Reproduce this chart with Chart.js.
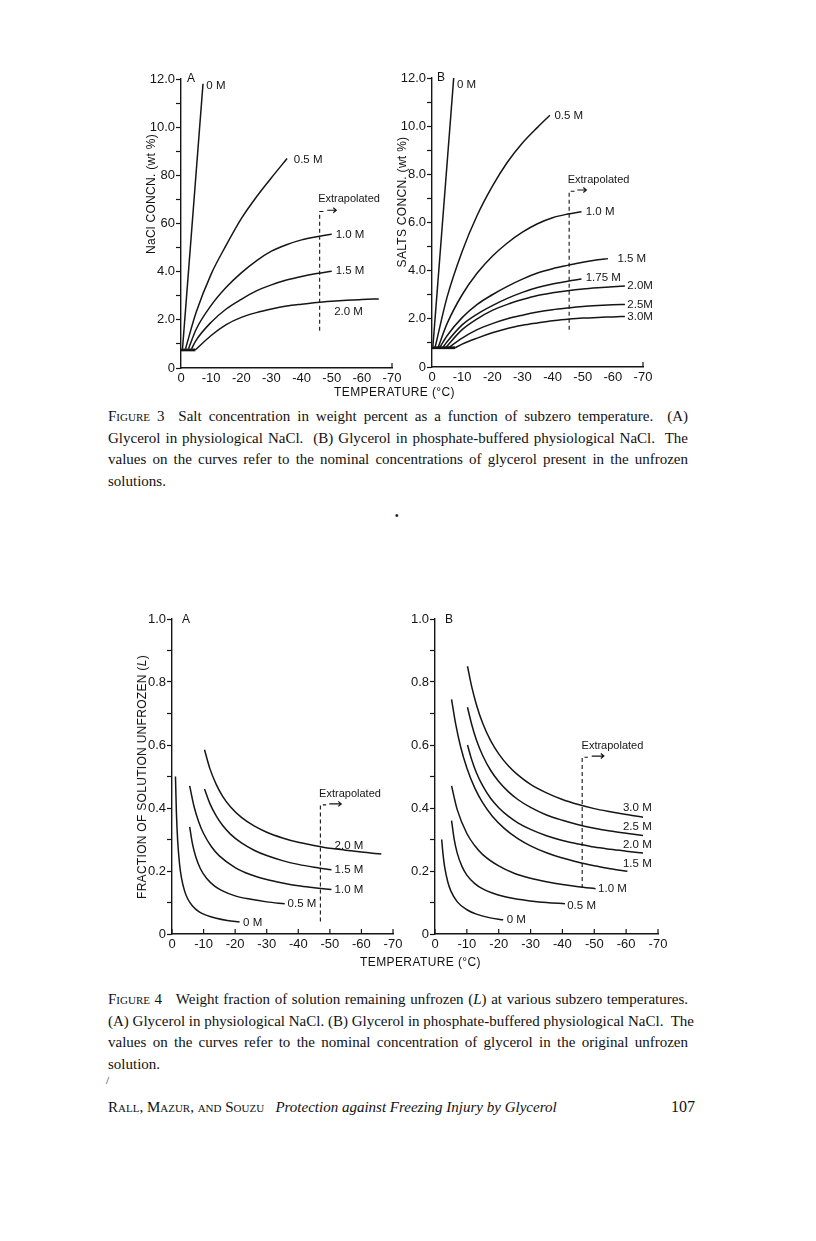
<!DOCTYPE html>
<html>
<head>
<meta charset="utf-8">
<script src="https://cdn.jsdelivr.net/npm/chart.js@4.4.1/dist/chart.umd.min.js"></script>
<style>
  html, body { margin: 0; padding: 0; background: #fff; }
  body { width: 816px; height: 1241px; position: relative; overflow: hidden; color: #111; }
  canvas { position: absolute; }
  .t { position: absolute; font-family: "Liberation Sans", Arial, sans-serif; white-space: nowrap; }
  .rot { transform: translate(-50%, -50%) rotate(-90deg); font-size: 12px; letter-spacing: 0.3px; }
  .cap { position: absolute; left: 108px; width: 580px; font-family: "Liberation Serif", "Times New Roman", serif; font-size: 15px; }
  .cap div { height: 21.7px; line-height: 21.7px; text-align: justify; text-align-last: justify; white-space: nowrap; }
  .cap div.last { text-align-last: left; }
  .sc { font-variant: small-caps; }
</style>
</head>
<body>
<canvas id="c3a" style="left:131px; top:65px;" width="301" height="331"></canvas>
<canvas id="c3b" style="left:382px; top:64px;" width="301" height="331"></canvas>
<canvas id="c4a" style="left:122px; top:605px;" width="311" height="357"></canvas>
<canvas id="c4b" style="left:385px; top:605px;" width="313" height="357"></canvas>

<div class="t rot" style="left:151px; top:194px;">NaCl CONCN. (wt %)</div>
<div class="t rot" style="left:402px; top:202px;">SALTS CONCN. (wt %)</div>
<div class="t rot" style="left:142px; top:777px;">FRACTION OF SOLUTION UNFROZEN (<i>L</i>)</div>
<div class="t" style="left:187px; top:71px; font-size:12px;">A</div>
<div class="t" style="left:437px; top:70px; font-size:12px;">B</div>
<div class="t" style="left:182px; top:612px; font-size:12px;">A</div>
<div class="t" style="left:445px; top:612px; font-size:12px;">B</div>
<div class="t" style="left:334px; top:385px; font-size:12px; letter-spacing:0.4px;">TEMPERATURE (°C)</div>
<div class="t" style="left:360px; top:955px; font-size:12px; letter-spacing:0.4px;">TEMPERATURE (°C)</div>

<div class="cap" style="top:406px;">
  <div><span class="sc">Figure</span> 3&nbsp; Salt concentration in weight percent as a function of subzero temperature.&nbsp; (A)</div>
  <div>Glycerol in physiological NaCl.&nbsp; (B) Glycerol in phosphate-buffered physiological NaCl.&nbsp; The</div>
  <div>values on the curves refer to the nominal concentrations of glycerol present in the unfrozen</div>
  <div class="last">solutions.</div>
</div>
<div class="t" style="left:395px; top:510px; font-size:10px;">•</div>

<div class="cap" style="top:989px;">
  <div><span class="sc">Figure</span> 4&nbsp;&nbsp; Weight fraction of solution remaining unfrozen (<i>L</i>) at various subzero temperatures.</div>
  <div>(A) Glycerol in physiological NaCl. (B) Glycerol in phosphate-buffered physiological NaCl.&nbsp; The</div>
  <div>values on the curves refer to the nominal concentration of glycerol in the original unfrozen</div>
  <div class="last">solution.</div>
</div>
<div class="t" style="left:106px; top:1074px; font-size:11px; font-family:'Liberation Serif',serif;">/</div>

<div class="t" style="left:108px; top:1099px; font-size:15px; font-family:'Liberation Serif',serif;"><span class="sc">Rall, Mazur, and Souzu</span>&nbsp;&nbsp; <i>Protection against Freezing Injury by Glycerol</i></div>
<div class="t" style="left:671px; top:1098px; font-size:16px; font-family:'Liberation Serif',serif;">107</div>

<script>
// temperature ticks (°C)
const xTickValues = [0, -10, -20, -30, -40, -50, -60, -70];
const xTickLabels = ['0', '-10', '-20', '-30', '-40', '-50', '-60', '-70'];

// Figure 3 y ticks (wt %)
const yTickValues3 = [0, 2, 4, 6, 8, 10, 12];
const yTickLabels3A = ['0', '2.0', '4.0', '60', '80', '10.0', '12.0'];
const yTickLabels3B = ['0', '2.0', '4.0', '6.0', '8.0', '10.0', '12.0'];

// Figure 4 y ticks (fraction unfrozen)
const yTickValues4 = [0, 0.2, 0.4, 0.6, 0.8, 1.0];
const yTickLabels4 = ['0', '0.2', '0.4', '0.6', '0.8', '1.0'];

// Fig 3A: NaCl concentration, [temperature, wt %]
const nacl_base = [[0, 0.75], [-4.75, 0.75]];
const nacl_0M = [[-0.5, 0.8], [-7.3, 11.8]];
const nacl_05M = [[-1.5, 0.8], [-5, 2.3], [-10, 3.9], [-15, 5.1], [-20, 6.2], [-25, 7.1], [-30, 7.9], [-35.2, 8.7]];
const nacl_10M = [[-2.5, 0.8], [-5, 1.6], [-10, 2.6], [-15, 3.35], [-20, 3.95], [-25, 4.45], [-30, 4.85], [-35, 5.12], [-40, 5.32], [-45, 5.45], [-50, 5.55]];
const nacl_15M = [[-3.5, 0.8], [-5, 1.15], [-10, 1.9], [-15, 2.45], [-20, 2.85], [-25, 3.2], [-30, 3.45], [-35, 3.65], [-40, 3.8], [-45, 3.92], [-50, 4.02]];
const nacl_20M = [[-4.75, 0.75], [-10, 1.35], [-15, 1.8], [-20, 2.1], [-25, 2.3], [-30, 2.45], [-35, 2.57], [-40, 2.65], [-45, 2.72], [-50, 2.77], [-55, 2.81], [-60, 2.84], [-65.6, 2.87]];
const nacl_extrap = [[-46, 1.55], [-46, 6.5], [-47.6, 6.5]];

// Fig 3B: salts concentration, [temperature, wt %]
const salts_base = [[0, 0.8], [-7.7, 0.8]];
const salts_0M = [[-0.3, 0.85], [-7.2, 12.0]];
const salts_05M = [[-1, 0.8], [-5, 2.9], [-10, 4.8], [-15, 6.3], [-20, 7.5], [-25, 8.5], [-30, 9.3], [-35, 9.95], [-39.1, 10.45]];
const salts_10M = [[-2, 0.8], [-5, 1.8], [-10, 3.0], [-15, 3.9], [-20, 4.6], [-25, 5.15], [-30, 5.6], [-35, 5.95], [-40, 6.2], [-45, 6.35], [-49.6, 6.45]];
const salts_15M = [[-2.5, 0.8], [-5, 1.3], [-10, 2.05], [-15, 2.6], [-20, 3.0], [-25, 3.35], [-30, 3.65], [-35, 3.9], [-40, 4.08], [-45, 4.22], [-50, 4.35], [-55, 4.45], [-58.4, 4.5]];
const salts_175M = [[-3.5, 0.8], [-5, 1.05], [-10, 1.75], [-15, 2.2], [-20, 2.55], [-25, 2.85], [-30, 3.1], [-35, 3.3], [-40, 3.45], [-45, 3.56], [-49.6, 3.65]];
const salts_20M = [[-4.5, 0.8], [-10, 1.55], [-15, 2.0], [-20, 2.35], [-25, 2.6], [-30, 2.8], [-35, 2.97], [-40, 3.08], [-45, 3.17], [-50, 3.24], [-55, 3.29], [-60, 3.33], [-64, 3.36]];
const salts_25M = [[-5.5, 0.8], [-10, 1.2], [-15, 1.55], [-20, 1.8], [-25, 2.0], [-30, 2.15], [-35, 2.28], [-40, 2.38], [-45, 2.45], [-50, 2.51], [-55, 2.55], [-60, 2.58], [-64, 2.6]];
const salts_30M = [[-7.7, 0.8], [-10, 0.95], [-15, 1.2], [-20, 1.42], [-25, 1.6], [-30, 1.73], [-35, 1.83], [-40, 1.92], [-45, 1.98], [-50, 2.03], [-55, 2.06], [-60, 2.08], [-64, 2.1]];
const salts_extrap = [[-45.5, 1.55], [-45.5, 7.3], [-47.3, 7.3]];

// Fig 4A: fraction unfrozen, physiological NaCl
const fracA_0M = [[-1.1, 0.5], [-1.4, 0.384], [-1.8, 0.295], [-2.4, 0.221], [-3, 0.178], [-4, 0.136], [-5, 0.111], [-6.5, 0.089], [-8.5, 0.071], [-11, 0.059], [-14, 0.05], [-17.5, 0.043], [-21.4, 0.038]];
const fracA_05M = [[-5.6, 0.34], [-6.5, 0.285], [-7.5, 0.246], [-9, 0.207], [-11, 0.176], [-13.5, 0.152], [-16, 0.137], [-20, 0.121], [-25, 0.11], [-30, 0.102], [-35.7, 0.096]];
const fracA_10M = [[-5.6, 0.47], [-7, 0.404], [-8.5, 0.355], [-10, 0.319], [-12.5, 0.277], [-15, 0.248], [-20, 0.211], [-25, 0.188], [-30, 0.173], [-35, 0.162], [-40, 0.153], [-45, 0.147], [-50.5, 0.141]];
const fracA_15M = [[-10.3, 0.46], [-12, 0.414], [-14, 0.375], [-16, 0.345], [-18.5, 0.317], [-22, 0.289], [-26, 0.266], [-30, 0.249], [-35, 0.233], [-40, 0.221], [-45, 0.212], [-50.5, 0.204]];
const fracA_20M = [[-10.3, 0.585], [-12, 0.525], [-14, 0.475], [-16, 0.438], [-18.5, 0.404], [-22, 0.37], [-26, 0.343], [-30, 0.323], [-35, 0.305], [-40, 0.291], [-45, 0.281], [-50, 0.272], [-55, 0.266], [-60, 0.26], [-66.3, 0.254]];
const fracA_extrap = [[-47, 0.04], [-47, 0.41], [-48.8, 0.41]];

// Fig 4B: fraction unfrozen, phosphate-buffered NaCl
const fracB_0M = [[-2.1, 0.3], [-2.5, 0.255], [-3, 0.215], [-4, 0.166], [-5, 0.136], [-7, 0.102], [-10, 0.077], [-13, 0.063], [-17, 0.052], [-21.4, 0.045]];
const fracB_05M = [[-5.2, 0.36], [-6, 0.302], [-7, 0.256], [-8.5, 0.214], [-10, 0.187], [-12.5, 0.16], [-15, 0.143], [-18, 0.13], [-22, 0.118], [-26, 0.11], [-30, 0.105], [-35, 0.1], [-40.8, 0.096]];
const fracB_10M = [[-5.2, 0.47], [-7, 0.394], [-10, 0.319], [-12.5, 0.28], [-15, 0.252], [-20, 0.216], [-25, 0.192], [-30, 0.177], [-35, 0.166], [-40, 0.157], [-45, 0.15], [-50.4, 0.144]];
const fracB_15M = [[-5.2, 0.745], [-6.5, 0.666], [-8, 0.596], [-10, 0.527], [-12.5, 0.463], [-15, 0.416], [-18, 0.374], [-22, 0.333], [-26, 0.303], [-30, 0.28], [-35, 0.258], [-40, 0.241], [-45, 0.228], [-50, 0.217], [-55, 0.207], [-60.4, 0.199]];
const fracB_20M = [[-10.2, 0.6], [-11.5, 0.554], [-13, 0.512], [-15, 0.47], [-17.5, 0.43], [-20, 0.401], [-23, 0.374], [-26, 0.353], [-30, 0.332], [-35, 0.312], [-40, 0.297], [-45, 0.286], [-50, 0.276], [-55, 0.269], [-60, 0.263], [-65.3, 0.257]];
const fracB_25M = [[-10.2, 0.72], [-11.5, 0.666], [-13, 0.616], [-15, 0.566], [-17.5, 0.519], [-20, 0.484], [-23, 0.452], [-26, 0.427], [-30, 0.402], [-35, 0.378], [-40, 0.361], [-45, 0.347], [-50, 0.336], [-55, 0.327], [-60, 0.32], [-65.3, 0.313]];
const fracB_30M = [[-10.2, 0.85], [-11.5, 0.786], [-13, 0.728], [-15, 0.668], [-17.5, 0.613], [-20, 0.572], [-23, 0.534], [-26, 0.505], [-30, 0.475], [-35, 0.448], [-40, 0.427], [-45, 0.411], [-50, 0.398], [-55, 0.388], [-60, 0.379], [-65.3, 0.371]];
const fracB_extrap = [[-46.2, 0.146], [-46.2, 0.561], [-48, 0.561]];

// curve labels: [text, temperature, value]
const labels3A = [['0 M', -8.4, 11.7], ['0.5 M', -37.4, 8.65], ['1.0 M', -51.3, 5.55], ['1.5 M', -51.3, 4.05], ['2.0 M', -50.8, 2.33]];
const labels3B = [['0 M', -8.3, 11.7], ['0.5 M', -40.6, 10.45], ['1.0 M', -51.0, 6.45], ['1.5 M', -61.5, 4.5], ['1.75 M', -51.0, 3.7], ['2.0M', -64.8, 3.36], ['2.5M', -64.8, 2.6], ['3.0M', -64.8, 2.1]];
const labels4A = [['0 M', -22.5, 0.036], ['0.5 M', -36.6, 0.095], ['1.0 M', -51.5, 0.141], ['1.5 M', -51.5, 0.204], ['2.0 M', -51.5, 0.281]];
const labels4B = [['0 M', -22.5, 0.045], ['0.5 M', -41.5, 0.09], ['1.0 M', -51.2, 0.143], ['1.5 M', -59, 0.223], ['2.0 M', -59, 0.283], ['2.5 M', -59, 0.341], ['3.0 M', -59, 0.4]];

const ink = '#151515';

function pick(values, labels, v) {
    const i = values.findIndex(function (x) { return Math.abs(x - v) < 1e-6; });
    return i >= 0 ? labels[i] : '';
}

function curve(points, extra) {
    return Object.assign({
        data: points.map(function (p) { return { x: p[0], y: p[1] }; }),
        borderColor: ink,
        borderWidth: 1.5,
        pointRadius: 0,
        fill: false,
        cubicInterpolationMode: 'monotone'
    }, extra || {});
}

const annotate = {
    id: 'annotate',
    afterDatasetsDraw(chart, args, opts) {
        const ctx = chart.ctx;
        const x = chart.scales.x, y = chart.scales.y;
        ctx.save();
        ctx.fillStyle = ink;
        ctx.strokeStyle = ink;
        ctx.lineWidth = 1.2;
        ctx.textBaseline = 'middle';
        ctx.font = '11.5px "Liberation Sans", Arial, sans-serif';
        (opts.labels || []).forEach(function (l) {
            ctx.fillText(l[0], x.getPixelForValue(l[1]), y.getPixelForValue(l[2]));
        });
        if (opts.extrap) {
            const e = opts.extrap;
            ctx.font = '11px "Liberation Sans", Arial, sans-serif';
            ctx.fillText('Extrapolated', x.getPixelForValue(e[0]), y.getPixelForValue(e[1]));
            const x1 = x.getPixelForValue(e[2]), x2 = x.getPixelForValue(e[3]), py = y.getPixelForValue(e[4]);
            ctx.beginPath();
            ctx.moveTo(x1, py); ctx.lineTo(x2, py);
            ctx.moveTo(x2 - 3, py - 2.5); ctx.lineTo(x2, py); ctx.lineTo(x2 - 3, py + 2.5);
            ctx.stroke();
        }
        // inward tick marks on the temperature axis
        (opts.xMarks || []).forEach(function (t) {
            const px = x.getPixelForValue(t);
            ctx.beginPath();
            ctx.moveTo(px, y.bottom);
            ctx.lineTo(px, y.bottom - 5);
            ctx.stroke();
        });
        ctx.restore();
    }
};

function makeChart(id, datasets, yMax, yStep, yValues, yLabels, notes) {
    return new Chart(document.getElementById(id).getContext('2d'), {
        type: 'line',
        data: { datasets: datasets },
        plugins: [annotate],
        options: {
            responsive: false,
            animation: false,
            events: [],
            layout: { padding: { top: 14, right: 40, left: 0, bottom: 0 } },
            plugins: { legend: { display: false }, tooltip: { enabled: false }, annotate: notes },
            scales: {
                x: {
                    type: 'linear', min: -70, max: 0, reverse: true,
                    afterFit: function (s) { s.height = 28; },
                    border: { display: true, color: ink, width: 1.4 },
                    grid: { display: false, drawTicks: false },
                    ticks: {
                        stepSize: 10, autoSkip: false, maxRotation: 0, padding: 3, color: ink,
                        font: { family: '"Liberation Sans", Arial, sans-serif', size: 13 },
                        callback: function (v) { return pick(xTickValues, xTickLabels, v); }
                    }
                },
                y: {
                    type: 'linear', min: 0, max: yMax,
                    afterFit: function (s) { s.width = 50; },
                    border: { display: true, color: ink, width: 1.4 },
                    grid: { drawOnChartArea: false, drawTicks: true, tickLength: 5, tickColor: ink, tickWidth: 1.2 },
                    ticks: {
                        stepSize: yStep, autoSkip: false, padding: 1, color: ink,
                        font: { family: '"Liberation Sans", Arial, sans-serif', size: 13 },
                        callback: function (v) { return pick(yValues, yLabels, v); }
                    }
                }
            }
        }
    });
}

const dashed = { borderDash: [4, 3], borderWidth: 1.1, cubicInterpolationMode: 'default', tension: 0 };
const straight = { cubicInterpolationMode: 'default', tension: 0 };

makeChart('c3a', [
    curve(nacl_base, { borderWidth: 2.8, cubicInterpolationMode: 'default' }),
    curve(nacl_0M, straight),
    curve(nacl_05M), curve(nacl_10M), curve(nacl_15M), curve(nacl_20M),
    curve(nacl_extrap, dashed)
], 12, 1, yTickValues3, yTickLabels3A,
    { labels: labels3A, extrap: [-45.5, 7.0, -48.5, -51.5, 6.55], xMarks: [-70] });

makeChart('c3b', [
    curve(salts_base, { borderWidth: 2.8, cubicInterpolationMode: 'default' }),
    curve(salts_0M, straight),
    curve(salts_05M), curve(salts_10M), curve(salts_15M), curve(salts_175M),
    curve(salts_20M), curve(salts_25M), curve(salts_30M),
    curve(salts_extrap, dashed)
], 12, 1, yTickValues3, yTickLabels3B,
    { labels: labels3B, extrap: [-45.0, 7.75, -48.2, -51.2, 7.35], xMarks: [-70] });

makeChart('c4a', [
    curve(fracA_0M), curve(fracA_05M), curve(fracA_10M), curve(fracA_15M), curve(fracA_20M),
    curve(fracA_extrap, dashed)
], 1, 0.1, yTickValues4, yTickLabels4,
    { labels: labels4A, extrap: [-46.6, 0.443, -49.8, -53.6, 0.413], xMarks: xTickValues });

makeChart('c4b', [
    curve(fracB_0M), curve(fracB_05M), curve(fracB_10M), curve(fracB_15M),
    curve(fracB_20M), curve(fracB_25M), curve(fracB_30M),
    curve(fracB_extrap, dashed)
], 1, 0.1, yTickValues4, yTickLabels4,
    { labels: labels4B, extrap: [-46.0, 0.596, -49.2, -53.0, 0.565], xMarks: xTickValues });
</script>
</body>
</html>
